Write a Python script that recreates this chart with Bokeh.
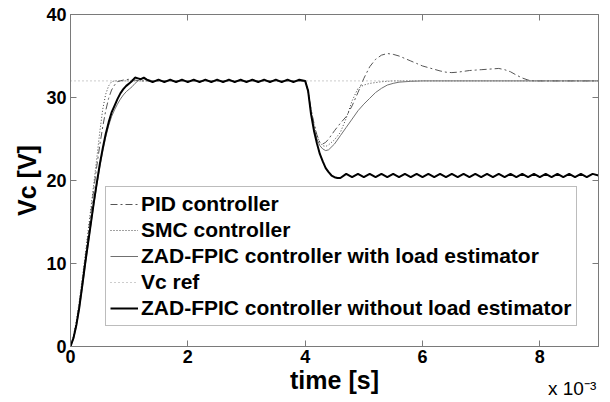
from bokeh.plotting import figure
from bokeh.models import Range1d, LinearAxis, Legend, LegendItem, FixedTicker
from bokeh.embed import file_html
from bokeh.resources import INLINE

# ---------------- data (time in units of 1e-3 s, voltage in V) ----------------
x_ticks = [0, 2, 4, 6, 8]
y_ticks = [0, 10, 20, 30, 40]

ref_t = [0.0, 9.0]
ref_v = [32.0, 32.0]

pid_t = [0.0, 0.05, 0.1, 0.15, 0.2, 0.25, 0.3, 0.35, 0.4, 0.45, 0.5, 0.55, 0.6, 0.65, 0.7, 0.75,
         0.8, 0.9, 1.0, 1.1, 1.2, 4.0, 4.05, 4.1, 4.15, 4.2, 4.25, 4.3, 4.35, 4.4, 4.5, 4.6, 4.7,
         4.8, 4.9, 5.0, 5.1, 5.2, 5.3, 5.4, 5.5, 5.6, 5.7, 5.8, 5.9, 6.0, 6.1, 6.2, 6.3, 6.4,
         6.5, 6.6, 6.7, 6.8, 6.9, 7.0, 7.1, 7.2, 7.3, 7.4, 7.5, 7.6, 7.7, 7.8, 7.9, 9.0]
pid_v = [0.0, 1.1, 2.8, 5.1, 7.8, 10.6, 13.5, 16.3, 19.1, 21.8, 24.3, 26.5, 28.4, 29.9, 30.9, 31.5,
         31.9, 32.1, 32.2, 32.1, 32.0, 32.0, 30.8, 28.6, 26.9, 25.5, 24.6, 24.4, 24.6, 25.0, 26.0, 26.9, 27.7,
         29.0, 30.6, 32.3, 33.7, 34.6, 35.1, 35.3, 35.2, 35.0, 34.7, 34.4, 34.1, 33.8, 33.6, 33.4, 33.2, 33.05,
         33.0, 33.05, 33.15, 33.25, 33.3, 33.35, 33.4, 33.45, 33.5, 33.35, 33.1, 32.7, 32.35, 32.1, 32.0, 32.0]

smc_t = [0.0, 0.05, 0.1, 0.15, 0.2, 0.25, 0.3, 0.35, 0.4, 0.45, 0.5, 0.55, 0.6, 0.65, 0.7, 0.75,
         4.0, 4.05, 4.1, 4.15, 4.2, 4.25, 4.3, 4.35, 4.4, 4.5, 4.6, 4.7, 4.8, 4.9, 5.0, 5.1, 5.2,
         5.3, 5.5, 9.0]
smc_v = [0.0, 1.2, 3.1, 5.5, 8.2, 11.0, 13.9, 16.8, 19.8, 22.8, 25.9, 28.6, 30.4, 31.4, 31.9, 32.0,
         32.0, 30.8, 28.5, 26.8, 25.4, 24.6, 24.2, 24.1, 24.3, 24.9, 25.8, 27.5, 29.6, 31.1, 31.5, 31.7, 31.8,
         31.9, 32.0, 32.0]

zle_t = [0.0, 0.05, 0.1, 0.15, 0.2, 0.25, 0.3, 0.35, 0.4, 0.45, 0.5, 0.55, 0.6, 0.65, 0.7, 0.75,
         0.8, 0.85, 0.9, 0.95, 1.0, 1.05, 1.1, 1.15, 1.2, 1.3, 1.4, 4.0, 4.05, 4.1, 4.15, 4.2, 4.25,
         4.3, 4.35, 4.4, 4.5, 4.6, 4.7, 4.8, 4.9, 5.0, 5.1, 5.2, 5.3, 5.4, 5.5, 5.6, 5.8, 6.0, 9.0]
zle_v = [0.0, 0.9, 2.4, 4.5, 7.0, 9.7, 12.3, 14.8, 17.2, 19.5, 21.6, 23.5, 25.2, 26.6, 27.7, 28.5,
         29.2, 29.8, 30.3, 30.7, 31.0, 31.3, 31.7, 32.0, 32.3, 32.2, 32.0, 32.0, 30.8, 28.2, 26.3, 25.0, 24.2,
         23.8, 23.6, 23.7, 24.4, 25.4, 26.4, 27.4, 28.4, 29.2, 29.9, 30.6, 31.1, 31.5, 31.7, 31.85, 31.95, 32.0, 32.0]

zwo_t = [0.0, 0.05, 0.1, 0.15, 0.2, 0.25, 0.3, 0.35, 0.4, 0.45, 0.5, 0.55, 0.6, 0.65, 0.7, 0.75,
         0.8, 0.85, 0.9, 0.95, 1.0, 1.05, 1.1, 1.15, 1.2, 1.25,
         1.3, 1.4, 1.5, 1.6, 1.7, 1.8, 1.9, 2.0, 2.1, 2.2, 2.3, 2.4, 2.5, 2.6, 2.7, 2.8, 2.9,
         3.0, 3.1, 3.2, 3.3, 3.4, 3.5, 3.6, 3.7, 3.8, 3.9, 4.0,
         4.05, 4.1, 4.15, 4.2, 4.25, 4.3, 4.35, 4.4, 4.45, 4.5, 4.55, 4.6,
         4.7, 4.8, 4.9, 5.0, 5.1, 5.2, 5.3, 5.4, 5.5, 5.6, 5.7, 5.8, 5.9, 6.0, 6.1, 6.2, 6.3,
         6.4, 6.5, 6.6, 6.7, 6.8, 6.9, 7.0, 7.1, 7.2, 7.3, 7.4, 7.5, 7.6, 7.7, 7.8, 7.9, 8.0,
         8.1, 8.2, 8.3, 8.4, 8.5, 8.6, 8.7, 8.8, 8.9, 9.0]
zwo_v = [0.0, 1.0, 2.6, 4.7, 7.3, 10.0, 12.5, 15.0, 17.5, 19.8, 22.0, 23.9, 25.6, 27.0, 28.2, 29.0,
         29.8, 30.5, 31.0, 31.4, 31.7, 32.0, 32.4, 32.3, 32.2, 32.4,
         32.15, 31.85, 32.15, 31.85, 32.15, 31.85, 32.15, 31.85, 32.15, 31.85, 32.15, 31.85, 32.15, 31.85, 32.15, 31.85, 32.15,
         31.85, 32.15, 31.85, 32.15, 31.85, 32.15, 31.85, 32.15, 31.85, 32.15, 32.0,
         30.8, 28.0, 26.0, 24.5, 23.2, 22.3, 21.5, 21.0, 20.6, 20.4, 20.3, 20.3,
         20.8, 20.4, 20.8, 20.4, 20.8, 20.4, 20.8, 20.4, 20.8, 20.4, 20.8, 20.4, 20.8, 20.4, 20.8, 20.4, 20.8,
         20.4, 20.8, 20.4, 20.8, 20.4, 20.8, 20.4, 20.8, 20.4, 20.8, 20.4, 20.8, 20.4, 20.8, 20.4, 20.8, 20.4,
         20.8, 20.4, 20.8, 20.4, 20.8, 20.4, 20.8, 20.4, 20.8, 20.6]

labels = ["PID controller", "SMC controller", "ZAD-FPIC controller with load estimator",
          "Vc ref", "ZAD-FPIC controller without load estimator"]
exp_pos = [8.55]
exp_text = ["x 10\u207b\u00b3"]

FONT = "Liberation Sans"
AXC = "#7a7a7a"

p = figure(output_backend="svg", toolbar_location=None,
           frame_width=528, frame_height=332, width=608, height=400,
           min_border_left=70, min_border_right=10, min_border_top=14, min_border_bottom=54,
           x_range=Range1d(0, 9), y_range=Range1d(0, 40))
p.background_fill_color = "white"
p.border_fill_color = "white"
p.outline_line_color = AXC
p.xgrid.visible = False
p.ygrid.visible = False

r_pid = p.line(pid_t, pid_v, line_color="#555555", line_width=1, line_dash="7 3 2 3")
r_smc = p.line(smc_t, smc_v, line_color="#444444", line_width=1, line_dash="1 2")
r_zle = p.line(zle_t, zle_v, line_color="#707070", line_width=1)
r_ref = p.line(ref_t, ref_v, line_color="#9a9a9a", line_width=1, line_dash="1 3")
r_zwo = p.line(zwo_t, zwo_v, line_color="#000000", line_width=2)

def style_axis(ax, show_labels):
    ax.axis_line_color = AXC
    ax.major_tick_line_color = AXC
    ax.major_tick_in = 6
    ax.major_tick_out = 0
    ax.minor_tick_line_color = None
    ax.major_label_text_font = FONT
    ax.major_label_text_font_style = "bold"
    ax.major_label_text_font_size = "18px"
    ax.major_label_text_color = "black"
    if not show_labels:
        ax.major_label_text_font_size = "0px"
        ax.major_label_text_color = None
        ax.major_label_standoff = 0

p.xaxis.ticker = FixedTicker(ticks=x_ticks)
p.yaxis.ticker = FixedTicker(ticks=y_ticks)
for ax in p.xaxis + p.yaxis:
    style_axis(ax, True)
p.xaxis.major_label_standoff = 3
p.yaxis.major_label_standoff = 4

p.xaxis.axis_label = "time [s]"
p.yaxis.axis_label = "Vc [V]"
for ax in p.xaxis + p.yaxis:
    ax.axis_label_text_font = FONT
    ax.axis_label_text_font_style = "bold"
    ax.axis_label_text_font_size = "25px"
    ax.axis_label_text_color = "black"
p.xaxis.axis_label_standoff = 0
p.yaxis.axis_label_standoff = 2

top = LinearAxis(ticker=FixedTicker(ticks=x_ticks))
right = LinearAxis(ticker=FixedTicker(ticks=y_ticks))
style_axis(top, False)
style_axis(right, False)
p.add_layout(top, "above")
p.add_layout(right, "right")

# exponent note of the time axis: an extra (line-less, tick-less) axis below the main one,
# pulled up with a negative standoff so it sits beside the "time [s]" label
exp_axis = LinearAxis(ticker=FixedTicker(ticks=exp_pos),
                      major_label_overrides={exp_pos[0]: exp_text[0]})
exp_axis.axis_line_color = None
exp_axis.major_tick_line_color = None
exp_axis.minor_tick_line_color = None
exp_axis.major_tick_in = 0
exp_axis.major_tick_out = 0
exp_axis.major_label_standoff = -19
exp_axis.major_label_text_font = FONT
exp_axis.major_label_text_font_style = "normal"
exp_axis.major_label_text_font_size = "19px"
exp_axis.major_label_text_color = "black"
p.add_layout(exp_axis, "below")

legend = Legend(items=[LegendItem(label=l, renderers=[r]) for l, r in
                       zip(labels, [r_pid, r_smc, r_zle, r_ref, r_zwo])],
                location=(35, 20))
legend.label_text_font = FONT
legend.label_text_font_style = "bold"
legend.label_text_font_size = "21px"
legend.label_text_color = "black"
legend.label_height = 26
legend.glyph_height = 26
legend.glyph_width = 28
legend.label_standoff = 3
legend.spacing = 0
legend.padding = 4
legend.margin = 0
legend.border_line_color = AXC
legend.border_line_width = 1
legend.background_fill_color = "white"
legend.background_fill_alpha = 1.0
p.add_layout(legend, "center")

open("out.html", "w").write(file_html(p, INLINE))
